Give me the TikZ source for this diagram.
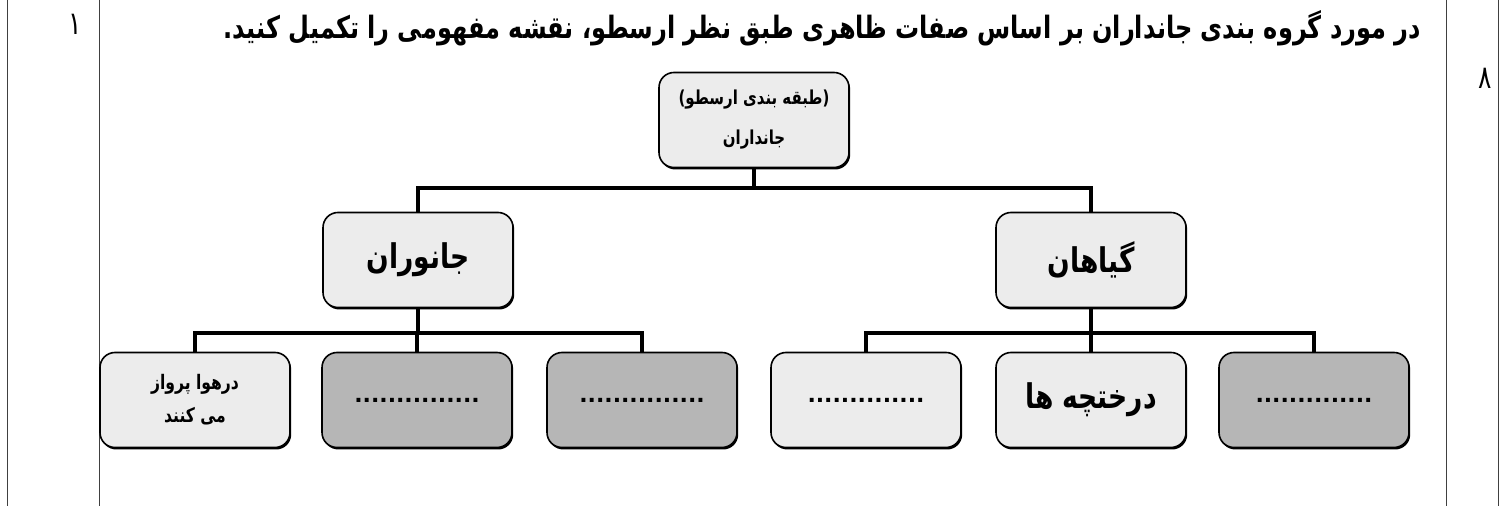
\documentclass[tikz,border=0pt]{standalone}
\usepackage{fontspec}
\usetikzlibrary{shadows}
\TeXXeTstate=1
\newfontfamily\arabicfont[Script=Arabic, FakeStretch=0.78]{DejaVu Sans}
\newfontfamily\dotfont{DejaVu Sans}
\begin{document}
\begin{tikzpicture}
    [x=0.5pt,y=-0.5pt,
     box/.style={draw, rounded corners=7.5pt, line width=0.8pt, minimum width=95pt, minimum height=47.5pt, inner sep=2pt,
       align=center, font=\arabicfont\bfseries\fontsize{9.6}{20}\selectfont,
       drop shadow={shadow xshift=0.6pt, shadow yshift=-1pt, fill=black, opacity=1}},
     light/.style={box, fill=gray!15},
     dark/.style={box, fill=gray!57},
     big/.style={font=\arabicfont\bfseries\fontsize{17}{20}\selectfont},
     dots/.style={font=\dotfont\bfseries\fontsize{11}{13}\selectfont},
     link/.style={line width=2pt}]
    \useasboundingbox (0,0) rectangle (1503,506);
    % table frame
    \draw[line width=0.5pt, black!75] (7,0) -- (7,506) (99,0) -- (99,506)
      (1446,0) -- (1446,506) (1498,0) -- (1498,506);
    \node (s1) at (75,24) {\arabicfont\fontsize{16}{18}\selectfont ۱};
    \node (s8) at (1485,78) {\arabicfont\fontsize{16}{18}\selectfont ۸};
    \node (q) [anchor=east] at (1428,28)
      {\arabicfont\bfseries\fontsize{15.4}{17}\selectfont\beginR در مورد گروه بندی جانداران بر اساس صفات ظاهری طبق  نظر ارسطو، نقشه مفهومی را تکمیل کنید.\endR};

    % concept map
    \node[light] (n1) at (754,120) {\beginR(طبقه بندی ارسطو)\endR\\\beginR جانداران\endR};
    \node[light, big] (n2) at (418,260) {\beginR جانوران\endR};
    \node[light, big] (n3) at (1091,260) {\beginR گیاهان\endR};
    \node[light, font=\arabicfont\bfseries\fontsize{10}{16.5}\selectfont] (n21) at (195,400) {\beginR درهوا پرواز\endR\\\beginR می کنند\endR};
    \node[dark, dots] (n22) at (417,400) {...............};
    \node[dark, dots] (n23) at (642,400) {...............};
    \node[light, dots] (n31) at (866,400) {..............};
    \node[light, big] (n32) at (1091,400) {\beginR درختچه ها\endR};
    \node[dark, dots] (n33) at (1314,400) {..............};

    \foreach \from/\to in {n1/n2, n1/n3}
      \draw[link] (\from.south) -- ++(0,20) -| (\to.north);
    \foreach \from/\to in {n2/n21, n2/n22, n2/n23, n3/n31, n3/n32, n3/n33}
      \draw[link] (\from.south) -- ++(0,25) -| (\to.north);
\end{tikzpicture}
\end{document}
